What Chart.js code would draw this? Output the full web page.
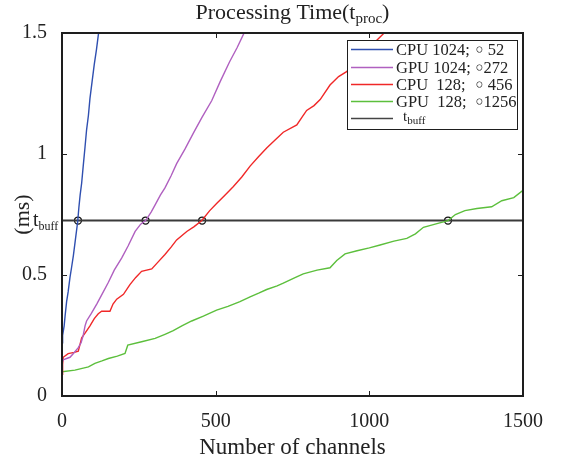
<!DOCTYPE html>
<html lang="en">
<head>
<meta charset="UTF-8" />
<title>Processing Time</title>
<script src="https://cdn.jsdelivr.net/npm/chart.js"></script>
<style>
  body { margin: 0; background: #fff; }
  #wrap { width: 561px; height: 461px; position: relative; }
</style>
</head>
<body>
<div id="wrap"><canvas id="procChart"></canvas></div>
<script>
// buffer time (ms) and where each curve crosses it (channels)
const tBuff = 0.725;
const crossings = [52, 272, 456, 1256];
const xTicks = [0, 500, 1000, 1500];
const yTicks = [0, 0.5, 1, 1.5];

// legend text: name, then the crossing after the circle
const seriesNames = ["CPU 1024;", "GPU 1024;", "CPU  128;", "GPU  128;"];
const seriesMarks = [" 52", "272", " 456", "1256"];
const seriesColors = ["#2f4fb0", "#b060c0", "#f02828", "#5cbf3c"];

const cpu1024X = [0, 2, 7, 10, 15, 20, 26, 31, 37, 44, 51, 55, 59, 64, 69, 75, 80, 86, 91, 98, 105, 112, 118, 125];
const cpu1024Y = [0.22, 0.25, 0.29, 0.33, 0.39, 0.43, 0.49, 0.53, 0.58, 0.65, 0.72, 0.78, 0.83, 0.88, 0.95, 1.03, 1.10, 1.16, 1.23, 1.30, 1.37, 1.43, 1.49, 1.55];

const gpu1024X = [0, 5, 15, 26, 40, 53, 62, 69, 75, 80, 95, 113, 130, 151, 170, 194, 215, 238, 256, 272, 290, 303, 320, 335, 355, 373, 400, 427, 455, 487, 515, 545, 570, 600];
const gpu1024Y = [0.14, 0.15, 0.155, 0.16, 0.18, 0.20, 0.22, 0.25, 0.29, 0.31, 0.34, 0.38, 0.42, 0.47, 0.52, 0.57, 0.62, 0.68, 0.71, 0.725, 0.76, 0.79, 0.83, 0.86, 0.91, 0.96, 1.02, 1.085, 1.15, 1.22, 1.30, 1.38, 1.44, 1.52];

const cpu128X = [0, 2, 4, 20, 40, 53, 58, 64, 75, 91, 105, 118, 129, 156, 166, 178, 200, 221, 240, 259, 292, 310, 335, 355, 373, 406, 430, 455, 480, 503, 530, 557, 585, 612, 640, 666, 695, 720, 764, 780, 796, 820, 840, 872, 900, 926, 960, 1000, 1040, 1080];
const cpu128Y = [0.09, 0.13, 0.16, 0.175, 0.18, 0.185, 0.21, 0.24, 0.26, 0.29, 0.32, 0.34, 0.35, 0.35, 0.38, 0.40, 0.42, 0.46, 0.49, 0.515, 0.525, 0.55, 0.585, 0.615, 0.645, 0.68, 0.70, 0.725, 0.765, 0.795, 0.83, 0.865, 0.905, 0.95, 0.99, 1.025, 1.06, 1.09, 1.12, 1.15, 1.18, 1.2, 1.225, 1.285, 1.32, 1.34, 1.39, 1.44, 1.49, 1.54];

const gpu128X = [0, 42, 86, 107, 130, 151, 180, 205, 214, 259, 303, 335, 362, 390, 422, 460, 503, 540, 579, 612, 640, 666, 700, 720, 760, 785, 830, 872, 894, 921, 960, 1000, 1035, 1080, 1122, 1150, 1176, 1220, 1256, 1280, 1311, 1350, 1398, 1431, 1470, 1500];
const gpu128Y = [0.10, 0.107, 0.12, 0.135, 0.145, 0.155, 0.165, 0.176, 0.21, 0.224, 0.238, 0.255, 0.27, 0.29, 0.31, 0.33, 0.355, 0.37, 0.39, 0.41, 0.425, 0.44, 0.455, 0.466, 0.49, 0.505, 0.52, 0.53, 0.56, 0.587, 0.60, 0.612, 0.624, 0.64, 0.651, 0.67, 0.697, 0.712, 0.725, 0.75, 0.766, 0.775, 0.782, 0.807, 0.82, 0.85];

const serif = "'Liberation Serif', 'Times New Roman', serif";
const frameColor = "#1e1e1e";
const textColor = "#222";

function pts(xs, ys) {
  return xs.map((v, i) => ({ x: v, y: ys[i] }));
}

// draw text pieces in a row, some of them as subscripts
function drawParts(ctx, parts, x, y, align) {
  let total = 0;
  parts.forEach(p => { ctx.font = p.size + "px " + serif; total += ctx.measureText(p.text).width; });
  let cx = align === "center" ? x - total / 2 : x;
  ctx.textAlign = "left";
  ctx.textBaseline = "alphabetic";
  parts.forEach(p => {
    ctx.font = p.size + "px " + serif;
    ctx.fillText(p.text, cx, y + (p.dy || 0));
    cx += ctx.measureText(p.text).width;
  });
}

const extras = {
  id: "extras",
  afterDraw(chart) {
    const { ctx, chartArea: a, scales: { x, y } } = chart;
    ctx.save();

    // inward ticks on all sides
    ctx.strokeStyle = frameColor;
    ctx.lineWidth = 1;
    ctx.beginPath();
    xTicks.forEach(v => {
      const px = Math.round(x.getPixelForValue(v)) + 0.5;
      ctx.moveTo(px, a.bottom); ctx.lineTo(px, a.bottom - 5);
      ctx.moveTo(px, a.top); ctx.lineTo(px, a.top + 5);
    });
    yTicks.forEach(v => {
      const py = Math.round(y.getPixelForValue(v)) + 0.5;
      ctx.moveTo(a.left, py); ctx.lineTo(a.left + 5, py);
      ctx.moveTo(a.right, py); ctx.lineTo(a.right - 5, py);
    });
    ctx.stroke();

    // axes box
    ctx.lineWidth = 2;
    ctx.strokeRect(a.left, a.top, a.right - a.left, a.bottom - a.top);

    // legend
    const lx = 347, ly = 40, lw = 170, lh = 89;
    ctx.fillStyle = "#fff";
    ctx.fillRect(lx, ly, lw, lh);
    ctx.lineWidth = 1;
    ctx.strokeStyle = frameColor;
    ctx.strokeRect(lx + 0.5, ly + 0.5, lw, lh);
    ctx.fillStyle = textColor;
    const rowY = [49, 67, 84, 101, 118];
    seriesNames.forEach((name, i) => {
      ctx.strokeStyle = seriesColors[i];
      ctx.lineWidth = 1.3;
      ctx.beginPath();
      ctx.moveTo(351, rowY[i] + 0.5); ctx.lineTo(393, rowY[i] + 0.5);
      ctx.stroke();
      drawParts(ctx, [{ text: name, size: 16.5 }], 396, rowY[i] + 6, "left");
      ctx.font = "20px 'DejaVu Sans'";
      ctx.textAlign = "center";
      ctx.fillText("\u25E6", 479.5, rowY[i] + 8);
      drawParts(ctx, [{ text: seriesMarks[i], size: 16.5 }], 483.5, rowY[i] + 6, "left");
    });
    ctx.strokeStyle = "#444";
    ctx.lineWidth = 1.5;
    ctx.beginPath();
    ctx.moveTo(351, rowY[4] + 0.5); ctx.lineTo(393, rowY[4] + 0.5);
    ctx.stroke();
    drawParts(ctx, [{ text: "t", size: 15 }, { text: "buff", size: 11, dy: 3 }], 403, rowY[4] + 3, "left");

    // title
    ctx.fillStyle = textColor;
    drawParts(ctx, [
      { text: "Processing Time(", size: 22 },
      { text: "t", size: 22 },
      { text: "proc", size: 15, dy: 4 },
      { text: ")", size: 22 }
    ], (a.left + a.right) / 2, 19, "center");

    // t_buff next to the y axis
    drawParts(ctx, [{ text: "t", size: 20 }, { text: "buff", size: 12, dy: 4 }],
      33, y.getPixelForValue(tBuff) + 5, "left");

    ctx.restore();
  }
};

const datasets = [
  [cpu1024X, cpu1024Y], [gpu1024X, gpu1024Y], [cpu128X, cpu128Y], [gpu128X, gpu128Y]
].map((s, i) => ({
  label: seriesNames[i],
  data: pts(s[0], s[1]),
  borderColor: seriesColors[i],
  borderWidth: 1.4,
  pointRadius: 0,
  tension: 0
}));

datasets.push({
  label: "t_buff",
  data: pts([0, 1500], [tBuff, tBuff]),
  borderColor: "#3a3a3a",
  borderWidth: 2,
  pointRadius: 0
});

datasets.push({
  label: "crossings",
  data: pts(crossings, crossings.map(() => tBuff)),
  showLine: false,
  pointStyle: "circle",
  pointRadius: 3.5,
  pointBorderWidth: 1.3,
  pointBorderColor: "#111",
  pointBackgroundColor: "rgba(0,0,0,0)"
});

new Chart(document.getElementById("procChart"), {
  type: "line",
  data: { datasets },
  options: {
    responsive: true,
    maintainAspectRatio: false,
    animation: false,
    layout: { padding: { left: 0, right: 38, top: 33, bottom: 0 } },
    plugins: { legend: { display: false }, tooltip: { enabled: false } },
    scales: {
      x: {
        type: "linear",
        min: 0, max: 1500,
        afterBuildTicks: s => { s.ticks = xTicks.map(v => ({ value: v })); },
        afterFit: s => { s.height = 65; },
        grid: { display: false },
        border: { display: false },
        ticks: { color: textColor, padding: 6, maxRotation: 0, font: { family: serif, size: 20 },
          callback: v => String(v) },
        title: { display: true, text: "Number of channels", color: textColor, padding: { bottom: -1 }, font: { family: serif, size: 23 } }
      },
      y: {
        min: 0, max: 1.5,
        afterBuildTicks: s => { s.ticks = yTicks.map(v => ({ value: v })); },
        afterFit: s => { s.width = 62; },
        grid: { display: false },
        border: { display: false },
        ticks: { color: textColor, padding: 7, font: { family: serif, size: 20 },
          callback: v => String(v) },
        title: { display: true, text: "(ms)", color: textColor, padding: { top: 10 }, font: { family: serif, size: 22 } }
      }
    }
  },
  plugins: [extras]
});
</script>
</body>
</html>
